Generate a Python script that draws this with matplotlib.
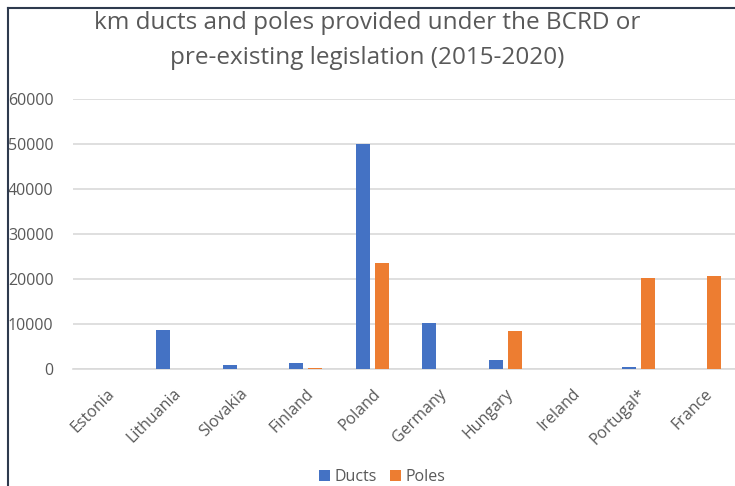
import numpy as np
import matplotlib.pyplot as plt
from matplotlib.lines import Line2D

# Data
countries = ['Estonia', 'Lithuania', 'Slovakia', 'Finland', 'Poland',
             'Germany', 'Hungary', 'Ireland', 'Portugal*', 'France']
ducts = [0, 8700, 800, 1250, 50000, 10300, 2100, 0, 500, 0]
poles = [0, 0, 0, 300, 23600, 0, 8500, 0, 20200, 20600]

blue = '#4472C4'
orange = '#ED7D31'
grey_text = '#595959'

plt.rcParams['font.family'] = ['Open Sans', 'DejaVu Sans']

fig = plt.figure(figsize=(7.35, 4.86), dpi=100)
ax = fig.add_axes([73 / 735, 1 - 369 / 486, (738 - 73) / 735, 270 / 486])

x = np.arange(len(countries))
w = 0.21
off = 0.143
ax.bar(x - off, ducts, width=w, color=blue, label='Ducts', zorder=3)
ax.bar(x + off, poles, width=w, color=orange, label='Poles', zorder=3)

ax.set_xlim(-0.5, len(countries) - 0.5)
ax.set_ylim(0, 60000)
ax.set_yticks(np.arange(0, 60001, 10000))
ax.yaxis.grid(True, color='#D9D9D9', linewidth=1.2, zorder=0)
ax.set_xticks(x)
ax.set_xticklabels(countries, rotation=45, ha='right', rotation_mode='anchor')
ax.tick_params(axis='both', length=0, colors=grey_text)
ax.tick_params(axis='y', pad=14, labelsize=11.5)
ax.tick_params(axis='x', pad=12, labelsize=11.5)
for s in ['top', 'right', 'left']:
    ax.spines[s].set_visible(False)
ax.spines['bottom'].set_color('#D9D9D9')
ax.spines['bottom'].set_linewidth(1.2)

fig.text(0.5, 1 - 23 / 486, 'km ducts and poles provided under the BCRD or',
         ha='center', va='center', fontsize=17.5, color=grey_text)
fig.text(0.5, 1 - 58 / 486, 'pre-existing legislation (2015-2020)',
         ha='center', va='center', fontsize=17.5, color=grey_text)

ax.legend(loc='center', bbox_to_anchor=(0.465, (369 - 477) / 270), ncol=2,
          frameon=False, fontsize=11.5, handlelength=0.7, handleheight=0.7,
          columnspacing=0.8, handletextpad=0.3, labelcolor=grey_text)

# outer frame (cropped chart border)
fig.add_artist(Line2D([8 / 735, 8 / 735], [0, 1 - 8 / 486], color='#2E3A4E', linewidth=1.5))
fig.add_artist(Line2D([8 / 735, 1], [1 - 8 / 486, 1 - 8 / 486], color='#2E3A4E', linewidth=1.5))

fig.savefig('out.png', dpi=100)
